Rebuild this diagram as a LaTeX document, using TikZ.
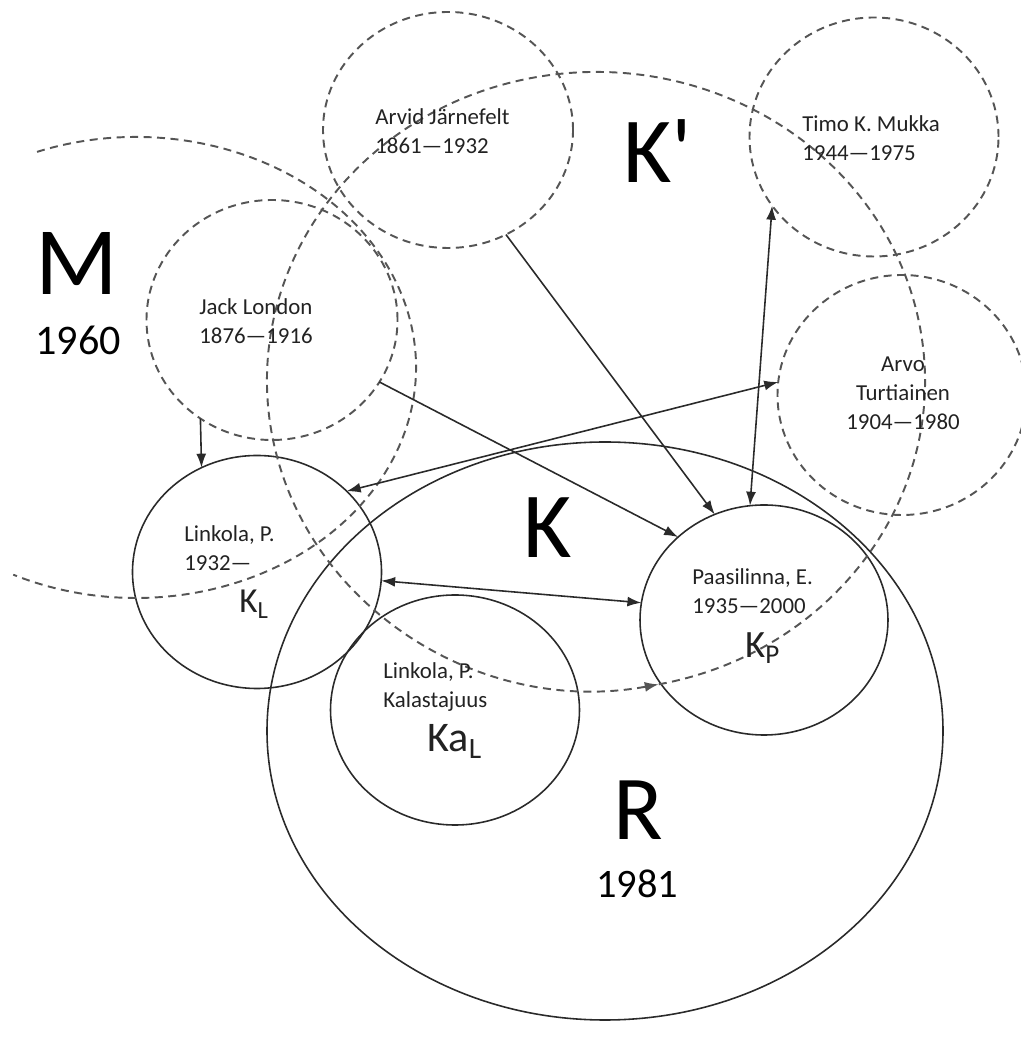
\documentclass[tikz,border=0pt]{standalone}
\usepackage{fontspec}
\setmainfont{Carlito}
\usepackage{tikz}
\usetikzlibrary{positioning, arrows.meta, shapes.geometric}
\definecolor{nInk}{HTML}{222222}
\definecolor{nLine}{HTML}{2A2A2A}
\definecolor{nDash}{HTML}{555555}
\tikzset{
  circ/.style 2 args={ellipse, inner sep=0pt, outer sep=0pt,
    minimum width=#1*0.2mm, minimum height=#2*0.2mm},
  dcirc/.style 2 args={circ={#1}{#2}, draw=nDash, line width=1.1pt,
    dash pattern=on 1.6mm off 1.1mm},
  scirc/.style 2 args={circ={#1}{#2}, draw=nLine, line width=0.9pt},
  dline/.style={draw=nDash, line width=1.1pt, dash pattern=on 1.6mm off 1.1mm},
  link/.style={draw=nLine, line width=0.9pt},
  lbl/.style={font=\fontsize{13}{16.5}\selectfont, text=nInk, align=left,
    inner sep=0pt, anchor=north west},
  big/.style={font=\fontsize{#1}{#1}\selectfont, text=black, inner sep=0pt, anchor=base},
  sub/.style={font=\fontsize{#1}{#1}\selectfont, text=nInk, inner sep=0pt, anchor=base west},
}

\begin{document}
\begin{tikzpicture}[x=0.2mm, y=0.2mm, >={Latex[length=2.8mm, width=2mm]}]
  \useasboundingbox (0,0) rectangle (1020,1042);

  % authors (dashed)
  \node[dcirc={250}{236}] (arvid) at (448,912) {};
  \node[dcirc={249}{239}] (timo) at (874,905) {};
  \node[dcirc={251}{240}] (jack) at (272,722) {};
  \node[dcirc={249}{240}] (arvo) at (902,647) {};

  % works (solid)
  \node[scirc={676}{578}] (rbig) at (605,311) {};
  \node[scirc={249}{233}] (linkola) at (257,470) {};
  \node[scirc={249}{230}] (kala) at (455,332) {};
  \node[scirc={248}{230}] (paasi) at (764,422) {};

  % M and K' regions
  \coordinate (mc) at (136,674.5);
  \coordinate (kc) at (596,661);
  \draw[dline] (mc) ++(110.7:280 and 230.5)
    arc[start angle=110.7, end angle=-116, x radius=280, y radius=230.5];
  \draw[dline, ->] (kc) ++(-79:329 and 309)
    arc[start angle=-439, end angle=-79, x radius=329, y radius=309];

  % influences
  \draw[link, ->] (jack.234.5) -- (linkola.118);
  \draw[link, ->] (jack.-30) -- (paasi.136);
  \draw[link, ->] (arvid.-61) -- (paasi.115);
  \draw[link, <->] (timo.214) -- (paasi.97);
  \draw[link, <->] (arvo.174) -- (linkola.42);
  \draw[link, <->] (linkola.-4.5) -- (paasi.172);

  % names
  \node[lbl] (jacktxt) at (199,744) {Jack London\\1876—1916};
  \node[lbl] (arvidtxt) at (375,934) {Arvid Järnefelt\\1861—1932};
  \node[lbl] (timotxt) at (802,927) {Timo K. Mukka\\1944—1975};
  \node[lbl, align=center, anchor=north] (arvotxt) at (903,685) {Arvo\\Turtiainen\\1904—1980};
  \node[lbl] (linkolatxt) at (184,517) {Linkola, P.\\1932—};
  \node[lbl] (kalatxt) at (383,380) {Linkola, P.\\Kalastajuus};
  \node[lbl] (paasitxt) at (692,474) {Paasilinna, E.\\1935—2000};

  % region letters
  \node[big=55] (mlet) at (77,747) {M};
  \node[big=24] (myear) at (78,687) {1960};
  \node[big=53] (kplet) at (658,859) {K\textquotesingle};
  \node[big=53] (klet) at (547.5,484) {K};
  \node[big=52] (rlet) at (638.5,202) {R};
  \node[big=23] (ryear) at (637,144) {1981};
  \node[sub=20] (kl) at (239,429) {K\textsubscript{L}};
  \node[sub=24] (kal) at (427,290) {Ka\textsubscript{L}};
  \node[sub=22] (kp) at (745,384) {K\textsubscript{P}};
\end{tikzpicture}
\end{document}
